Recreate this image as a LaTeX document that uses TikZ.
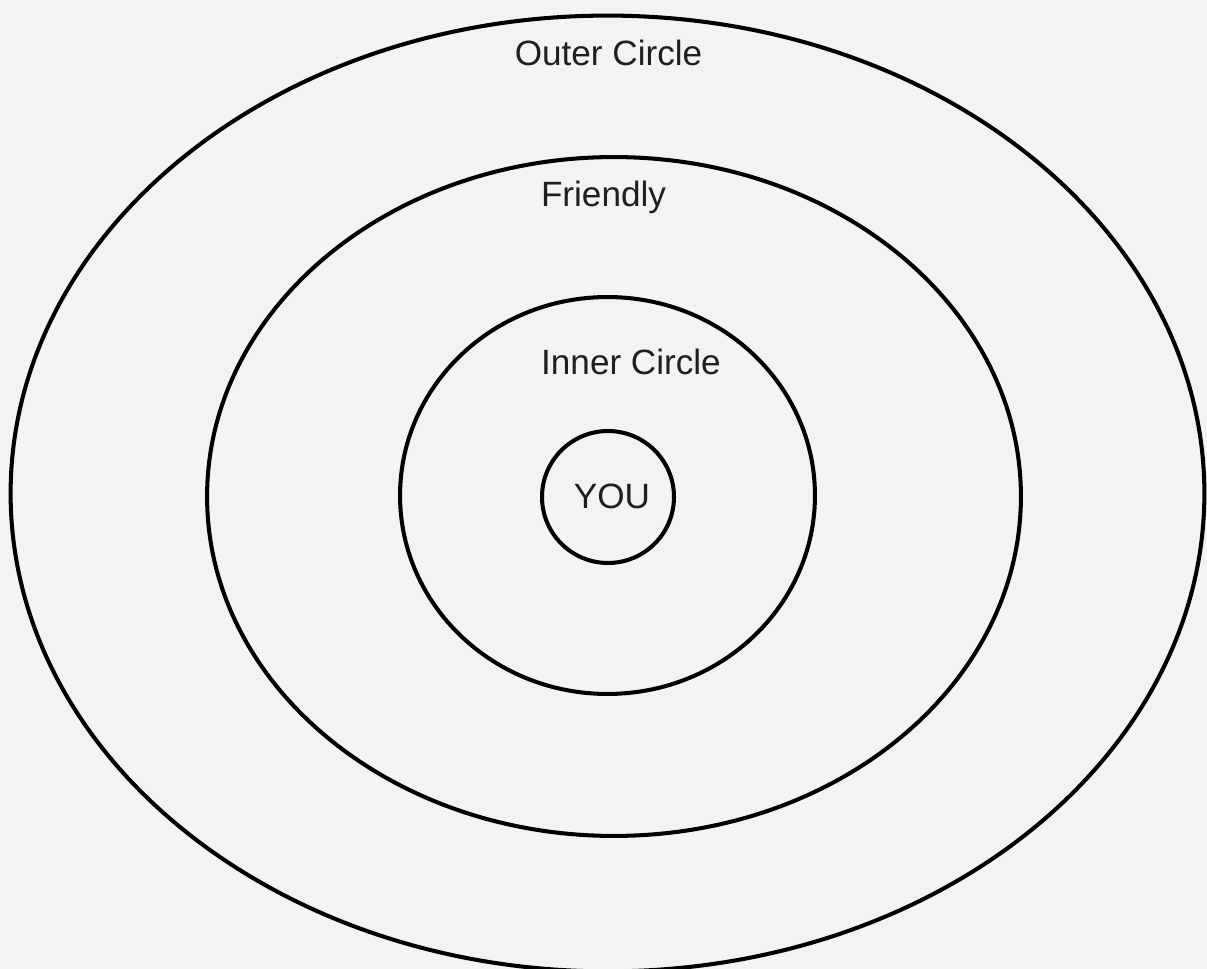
\documentclass[tikz,border=0pt]{standalone}
\usepackage{fontspec}
\setmainfont{Liberation Sans}
\definecolor{bgc}{HTML}{F3F3F3}
\tikzset{
  ring/.style={draw=black, line width=2.3pt},
  lbl/.style={anchor=base, inner sep=0pt, font=\fontsize{20}{24}\selectfont, text=black!88}
}
\begin{document}
\begin{tikzpicture}[x=0.02cm, y=-0.02cm]
\fill[bgc] (0,0) rectangle (1207,969);
\useasboundingbox (0,0) rectangle (1207,969);
\begin{scope}
\clip (0,0) rectangle (1207,969);
\draw[ring] (607.5,493.5) ellipse [x radius=11.94cm, y radius=9.56cm];
\end{scope}
\draw[ring] (614,496.5) ellipse [x radius=8.14cm, y radius=6.79cm];
\draw[ring] (607.5,495.5) ellipse [x radius=4.15cm, y radius=3.97cm];
\node[ring, circle, minimum size=2.64cm, inner sep=0pt] (you) at (608,497) {};
\node[lbl] (outer) at (608.5,66) {Outer Circle};
\node[lbl] (friendly) at (603.5,207) {Friendly};
\node[lbl] (inner) at (631,375) {Inner Circle};
\node[lbl] (youlbl) at (612,508) {YOU};
\end{tikzpicture}
\end{document}
